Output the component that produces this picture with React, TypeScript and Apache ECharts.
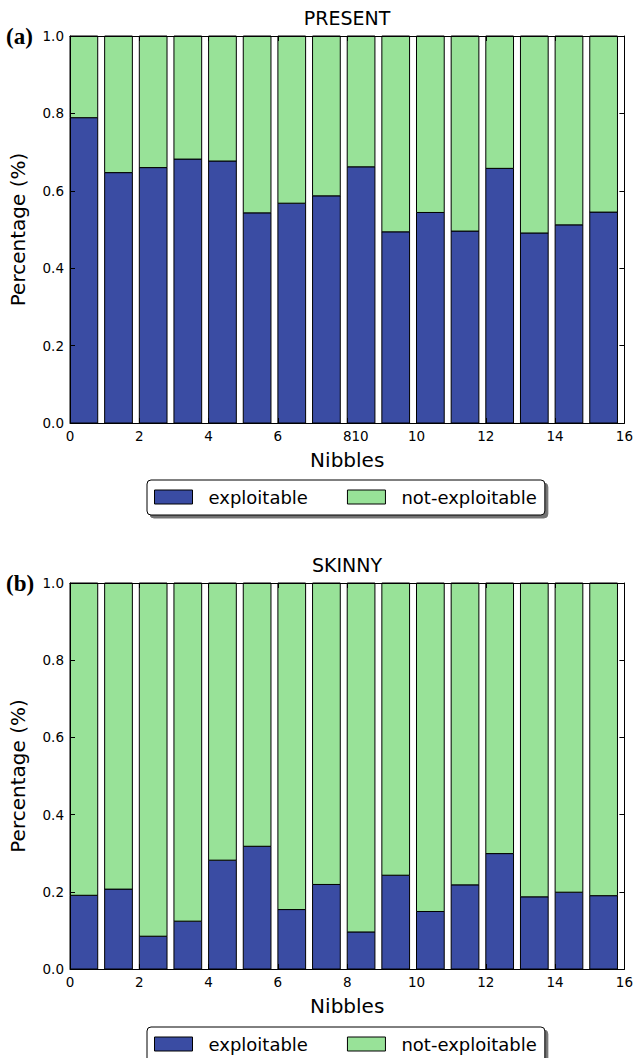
import React, { useEffect, useRef } from "react";
import * as echarts from "echarts";

const nibbles = [0, 1, 2, 3, 4, 5, 6, 7, 8, 9, 10, 11, 12, 13, 14, 15];
const presentExploitable = [0.789, 0.647, 0.66, 0.682, 0.677, 0.543, 0.568, 0.587, 0.662, 0.494, 0.544, 0.496, 0.658, 0.491, 0.512, 0.545];
const skinnyExploitable = [0.191, 0.207, 0.085, 0.124, 0.282, 0.318, 0.154, 0.219, 0.096, 0.243, 0.149, 0.218, 0.299, 0.187, 0.199, 0.19];
const seriesNames = ["exploitable", "not-exploitable"];
const panelTitles = ["PRESENT", "SKINNY"];
const panelTags = ["(a)", "(b)"];
const BAR_WIDTH = 0.8;

const FONT = "DejaVu Sans";
const BLUE = "#3a4ca3";
const GREEN = "#98e298";
const W = 636;
const PLOT_L = 69;
const PLOT_R = 625;
const grids = [
  { top: 36, height: 387 },
  { top: 583, height: 386 },
];
const legendTops = [480, 1027];

export default function App() {
  const ref = useRef<HTMLDivElement>(null);
  useEffect(() => {
    if (!ref.current) return;
    const chart = echarts.init(ref.current, null, { renderer: "svg" });
    const plotW = PLOT_R - PLOT_L;
    const values = [presentExploitable, skinnyExploitable];

    const gridOpts = grids.map((g) => ({
      left: PLOT_L,
      width: plotW,
      top: g.top,
      height: g.height,
      show: false,
    }));

    const lineStyle = { color: "#000", width: 1 };
    const xAxes: any[] = [];
    const yAxes: any[] = [];
    grids.forEach((_, gi) => {
      xAxes.push({
        gridIndex: gi,
        type: "value",
        min: 0,
        max: 16,
        interval: 2,
        position: "bottom",
        axisLine: { show: true, onZero: false, lineStyle },
        axisTick: { show: true, inside: true, length: 5, lineStyle },
        axisLabel: { color: "#000", fontSize: 13.5, fontFamily: FONT, margin: 6 },
        splitLine: { show: false },
        name: "Nibbles",
        nameLocation: "middle",
        nameGap: 27,
        nameTextStyle: { color: "#000", fontSize: 20, fontFamily: FONT },
        z: 10,
      });
      xAxes.push({
        gridIndex: gi,
        type: "value",
        min: 0,
        max: 16,
        interval: 2,
        position: "top",
        axisLine: { show: true, onZero: false, lineStyle },
        axisTick: { show: true, inside: true, length: 5, lineStyle },
        axisLabel: { show: false },
        splitLine: { show: false },
        z: 10,
      });
      yAxes.push({
        gridIndex: gi,
        type: "value",
        min: 0,
        max: 1,
        interval: 0.2,
        position: "left",
        axisLine: { show: true, onZero: false, lineStyle },
        axisTick: { show: true, inside: true, length: 5, lineStyle },
        axisLabel: {
          color: "#000",
          fontSize: 13.5,
          fontFamily: FONT,
          margin: 6,
          formatter: (v: number) => v.toFixed(1),
        },
        splitLine: { show: false },
        name: "Percentage (%)",
        nameLocation: "middle",
        nameGap: 42,
        nameTextStyle: { color: "#000", fontSize: 20, fontFamily: FONT },
        z: 10,
      });
      yAxes.push({
        gridIndex: gi,
        type: "value",
        min: 0,
        max: 1,
        interval: 0.2,
        position: "right",
        axisLine: { show: true, onZero: false, lineStyle },
        axisTick: { show: true, inside: true, length: 5, lineStyle },
        axisLabel: { show: false },
        splitLine: { show: false },
        z: 10,
      });
    });

    const makeRender = (color: string) => (params: any, api: any) => {
      const x0 = api.value(0);
      const y0 = api.value(1);
      const y1 = api.value(2);
      const p0 = api.coord([x0, y0]);
      const p1 = api.coord([x0 + BAR_WIDTH, y1]);
      return {
        type: "rect",
        shape: { x: p0[0], y: p1[1], width: p1[0] - p0[0], height: p0[1] - p1[1] },
        style: { fill: color, stroke: "#000", lineWidth: 1 },
      };
    };

    const series: any[] = [];
    values.forEach((vals, gi) => {
      series.push({
        type: "custom",
        name: seriesNames[0],
        xAxisIndex: gi * 2,
        yAxisIndex: gi * 2,
        itemStyle: { color: BLUE, borderColor: "#000", borderWidth: 1 },
        encode: { x: 0, y: [1, 2] },
        renderItem: makeRender(BLUE),
        data: nibbles.map((n, k) => [n, 0, vals[k]]),
      });
      series.push({
        type: "custom",
        name: seriesNames[1],
        xAxisIndex: gi * 2,
        yAxisIndex: gi * 2,
        itemStyle: { color: GREEN, borderColor: "#000", borderWidth: 1 },
        encode: { x: 0, y: [1, 2] },
        renderItem: makeRender(GREEN),
        data: nibbles.map((n, k) => [n, vals[k], 1]),
      });
    });

    const legends = legendTops.map((t) => ({
      left: 147,
      top: t,
      orient: "horizontal",
      icon: "rect",
      itemWidth: 38,
      itemHeight: 14,
      itemGap: 39,
      padding: [8, 8, 9, 7],
      borderColor: "#000",
      borderWidth: 1,
      borderRadius: 4,
      backgroundColor: "#fff",
      shadowColor: "rgba(0,0,0,0.55)",
      shadowOffsetX: 3,
      shadowOffsetY: 3,
      shadowBlur: 0,
      itemStyle: { borderColor: "#000", borderWidth: 1 },
      textStyle: {
        color: "#000",
        fontSize: 18,
        lineHeight: 16,
        fontFamily: FONT,
        padding: [0, 0, 0, 11],
      },
      data: seriesNames,
    }));

    const titles = grids.map((g, gi) => ({
      text: panelTitles[gi],
      left: (PLOT_L + PLOT_R) / 2,
      top: g.top - 28,
      textAlign: "center",
      padding: 0,
      textStyle: { color: "#000", fontSize: 19, fontWeight: "normal", fontFamily: FONT },
    }));

    const graphic: any[] = grids.map((g, gi) => ({
      type: "text",
      x: 6,
      y: g.top,
      style: {
        text: panelTags[gi],
        fill: "#000",
        font: "bold 23px 'Liberation Serif'",
        textVerticalAlign: "middle",
      },
    }));
    // stray overlapping "10" next to the "8" tick label in panel (a)
    graphic.push({
      type: "text",
      x: 360,
      y: grids[0].top + grids[0].height + 6,
      style: {
        text: "10",
        fill: "#000",
        font: `13.5px '${FONT}'`,
        textAlign: "center",
        textVerticalAlign: "top",
      },
    });

    chart.setOption({
      animation: false,
      backgroundColor: "#fff",
      title: titles,
      grid: gridOpts,
      xAxis: xAxes,
      yAxis: yAxes,
      legend: legends,
      series,
      graphic,
    });
    return () => chart.dispose();
  }, []);
  return (
    <div
      ref={ref}
      style={{ position: "absolute", left: 0, top: 0, width: W, height: 1058 }}
    />
  );
}
